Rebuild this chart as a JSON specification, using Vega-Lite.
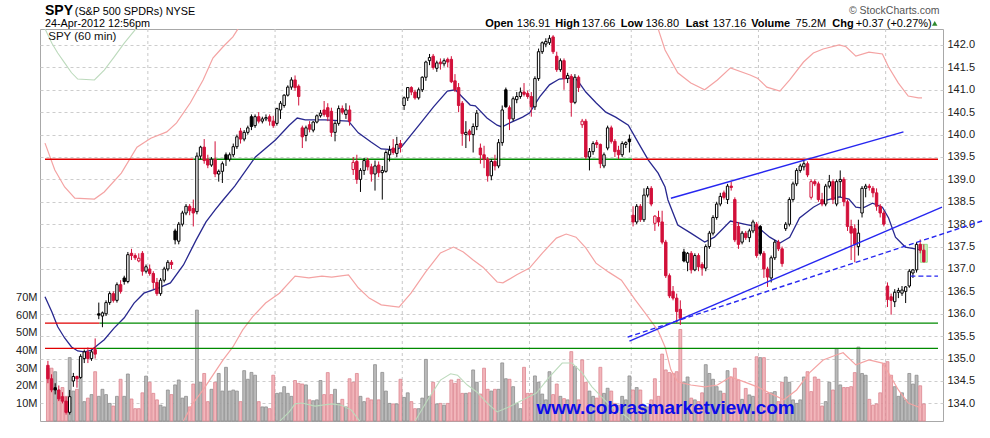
{
  "$schema": "https://vega.github.io/schema/vega-lite/v6.json",
  "width": 903,
  "height": 392,
  "autosize": {"type": "none"},
  "padding": {"left": 40, "top": 29, "right": 47, "bottom": 17},
  "background": "#ffffff",
  "config": {
    "view": {"stroke": "#a8a8a8", "strokeWidth": 1},
    "font": "Liberation Sans",
    "text": {"font": "Liberation Sans"}
  },
  "datasets": {
    "weeks": [{"i": 27.5}, {"i": 62.5}, {"i": 97.5}, {"i": 132.5}, {"i": 160.5}, {"i": 195.5}, {"i": 230.5}],
    "bars": [
      {"i":0,"o":134.85,"h":134.95,"l":134.45,"c":134.55,"v":30},
      {"i":1,"o":134.55,"h":134.65,"l":134.25,"c":134.30,"v":30},
      {"i":2,"o":134.35,"h":134.45,"l":134.20,"c":134.30,"v":28},
      {"i":3,"o":134.30,"h":134.40,"l":134.05,"c":134.10,"v":14},
      {"i":4,"o":134.15,"h":134.25,"l":134.00,"c":134.05,"v":19},
      {"i":5,"o":134.05,"h":134.15,"l":133.75,"c":133.80,"v":14},
      {"i":6,"o":133.80,"h":134.30,"l":133.75,"c":134.15,"v":36},
      {"i":7,"o":134.50,"h":134.68,"l":134.37,"c":134.60,"v":17},
      {"i":8,"o":134.60,"h":134.62,"l":134.35,"c":134.55,"v":18},
      {"i":9,"o":134.58,"h":135.10,"l":134.55,"c":135.05,"v":35},
      {"i":10,"o":135.00,"h":135.20,"l":134.90,"c":135.15,"v":11},
      {"i":11,"o":135.15,"h":135.25,"l":134.90,"c":135.00,"v":13},
      {"i":12,"o":135.00,"h":135.20,"l":134.95,"c":135.15,"v":15},
      {"i":13,"o":135.20,"h":135.45,"l":135.00,"c":135.10,"v":28},
      {"i":14,"o":136.00,"h":136.25,"l":135.88,"c":135.97,"v":14},
      {"i":15,"o":135.95,"h":136.05,"l":135.70,"c":136.02,"v":18},
      {"i":16,"o":136.00,"h":136.30,"l":135.95,"c":136.25,"v":15},
      {"i":17,"o":136.25,"h":136.50,"l":136.20,"c":136.45,"v":10},
      {"i":18,"o":136.45,"h":136.50,"l":136.25,"c":136.30,"v":8.5},
      {"i":19,"o":136.30,"h":136.70,"l":136.25,"c":136.65,"v":14},
      {"i":20,"o":136.65,"h":136.75,"l":136.45,"c":136.50,"v":23.7},
      {"i":21,"o":136.80,"h":136.85,"l":136.65,"c":136.72,"v":14},
      {"i":22,"o":136.72,"h":137.38,"l":136.68,"c":137.32,"v":26.7},
      {"i":23,"o":137.35,"h":137.45,"l":137.20,"c":137.30,"v":12.5},
      {"i":24,"o":137.30,"h":137.35,"l":137.20,"c":137.25,"v":7},
      {"i":25,"o":137.18,"h":137.35,"l":137.15,"c":137.24,"v":7},
      {"i":26,"o":137.35,"h":137.40,"l":136.85,"c":136.95,"v":16},
      {"i":27,"o":136.95,"h":137.10,"l":136.90,"c":137.05,"v":25.5},
      {"i":28,"o":137.00,"h":137.10,"l":136.85,"c":136.90,"v":22},
      {"i":29,"o":136.90,"h":136.95,"l":136.55,"c":136.70,"v":15.7},
      {"i":30,"o":136.70,"h":136.80,"l":136.40,"c":136.45,"v":12},
      {"i":31,"o":136.45,"h":136.80,"l":136.40,"c":136.75,"v":9},
      {"i":32,"o":136.75,"h":137.05,"l":136.70,"c":137.00,"v":8},
      {"i":33,"o":137.00,"h":137.20,"l":136.95,"c":137.15,"v":17.6},
      {"i":34,"o":137.15,"h":137.20,"l":137.00,"c":137.10,"v":15},
      {"i":35,"o":137.85,"h":137.90,"l":137.55,"c":137.65,"v":20.5},
      {"i":36,"o":137.62,"h":138.05,"l":137.55,"c":138.00,"v":23.3},
      {"i":37,"o":138.00,"h":138.30,"l":137.95,"c":138.25,"v":13},
      {"i":38,"o":138.25,"h":138.45,"l":138.20,"c":138.40,"v":14},
      {"i":39,"o":138.40,"h":138.45,"l":138.20,"c":138.30,"v":8},
      {"i":40,"o":138.35,"h":138.55,"l":137.95,"c":138.25,"v":21},
      {"i":41,"o":138.28,"h":139.60,"l":138.22,"c":139.52,"v":63},
      {"i":42,"o":139.52,"h":139.75,"l":139.45,"c":139.72,"v":22},
      {"i":43,"o":139.72,"h":139.90,"l":139.35,"c":139.42,"v":27},
      {"i":44,"o":139.45,"h":139.55,"l":139.25,"c":139.32,"v":11},
      {"i":45,"o":139.32,"h":139.50,"l":139.28,"c":139.45,"v":18},
      {"i":46,"o":139.45,"h":139.85,"l":139.05,"c":139.12,"v":22},
      {"i":47,"o":139.12,"h":139.22,"l":138.95,"c":139.18,"v":27},
      {"i":48,"o":139.18,"h":139.40,"l":138.92,"c":139.35,"v":17},
      {"i":49,"o":139.55,"h":139.60,"l":139.30,"c":139.45,"v":30.5},
      {"i":50,"o":139.45,"h":139.60,"l":139.40,"c":139.55,"v":17},
      {"i":51,"o":139.55,"h":139.80,"l":139.50,"c":139.73,"v":17.6},
      {"i":52,"o":139.73,"h":140.00,"l":139.68,"c":139.95,"v":17},
      {"i":53,"o":140.08,"h":140.15,"l":139.80,"c":139.90,"v":11},
      {"i":54,"o":139.90,"h":140.10,"l":139.85,"c":140.05,"v":28.6},
      {"i":55,"o":140.05,"h":140.20,"l":140.00,"c":140.15,"v":23.7},
      {"i":56,"o":140.40,"h":140.45,"l":140.10,"c":140.18,"v":27.6},
      {"i":57,"o":140.20,"h":140.45,"l":140.15,"c":140.40,"v":26},
      {"i":58,"o":140.40,"h":140.50,"l":140.25,"c":140.30,"v":11},
      {"i":59,"o":140.30,"h":140.40,"l":140.25,"c":140.35,"v":8},
      {"i":60,"o":140.35,"h":140.45,"l":140.30,"c":140.38,"v":8},
      {"i":61,"o":140.40,"h":140.45,"l":140.20,"c":140.30,"v":7},
      {"i":62,"o":140.30,"h":140.42,"l":140.15,"c":140.20,"v":26},
      {"i":63,"o":140.25,"h":140.60,"l":140.20,"c":140.58,"v":15.7},
      {"i":64,"o":140.55,"h":140.75,"l":140.35,"c":140.70,"v":16},
      {"i":65,"o":140.65,"h":140.90,"l":140.60,"c":140.88,"v":19.5},
      {"i":66,"o":140.88,"h":141.10,"l":140.85,"c":141.06,"v":15.7},
      {"i":67,"o":141.06,"h":141.28,"l":141.00,"c":141.22,"v":14},
      {"i":68,"o":141.22,"h":141.32,"l":140.98,"c":141.05,"v":23},
      {"i":69,"o":141.08,"h":141.12,"l":140.65,"c":140.85,"v":21.4},
      {"i":70,"o":140.15,"h":140.20,"l":139.70,"c":139.95,"v":21},
      {"i":71,"o":139.98,"h":140.20,"l":139.85,"c":140.15,"v":20.5},
      {"i":72,"o":140.22,"h":140.30,"l":140.05,"c":140.12,"v":12},
      {"i":73,"o":140.10,"h":140.30,"l":140.05,"c":140.28,"v":11.5},
      {"i":74,"o":140.28,"h":140.45,"l":140.25,"c":140.42,"v":12},
      {"i":75,"o":140.42,"h":140.55,"l":140.38,"c":140.48,"v":23},
      {"i":76,"o":140.55,"h":140.75,"l":140.40,"c":140.45,"v":15},
      {"i":77,"o":140.60,"h":140.70,"l":140.30,"c":140.40,"v":27.5},
      {"i":78,"o":140.52,"h":140.60,"l":139.95,"c":140.05,"v":15},
      {"i":79,"o":140.05,"h":140.30,"l":139.85,"c":140.25,"v":18},
      {"i":80,"o":140.25,"h":140.65,"l":140.20,"c":140.58,"v":10},
      {"i":81,"o":140.58,"h":140.65,"l":140.45,"c":140.50,"v":12.3},
      {"i":82,"o":140.45,"h":140.70,"l":140.35,"c":140.55,"v":8},
      {"i":83,"o":140.55,"h":140.65,"l":140.20,"c":140.30,"v":24},
      {"i":84,"o":139.22,"h":139.50,"l":139.10,"c":139.38,"v":22},
      {"i":85,"o":139.40,"h":139.55,"l":138.90,"c":139.00,"v":27},
      {"i":86,"o":139.00,"h":139.25,"l":138.72,"c":139.20,"v":14},
      {"i":87,"o":139.20,"h":139.48,"l":139.10,"c":139.42,"v":11},
      {"i":88,"o":139.42,"h":139.48,"l":139.20,"c":139.28,"v":13},
      {"i":89,"o":139.28,"h":139.35,"l":138.95,"c":139.12,"v":12},
      {"i":90,"o":139.12,"h":139.42,"l":138.75,"c":139.30,"v":32},
      {"i":91,"o":139.32,"h":139.40,"l":139.05,"c":139.15,"v":12},
      {"i":92,"o":139.15,"h":139.30,"l":138.55,"c":139.20,"v":27.6},
      {"i":93,"o":139.18,"h":139.65,"l":139.15,"c":139.60,"v":17},
      {"i":94,"o":139.55,"h":139.75,"l":139.40,"c":139.65,"v":10},
      {"i":95,"o":139.70,"h":139.90,"l":139.55,"c":139.60,"v":9.7},
      {"i":96,"o":139.58,"h":139.95,"l":139.50,"c":139.78,"v":9.7},
      {"i":97,"o":139.80,"h":139.88,"l":139.60,"c":139.72,"v":23.7},
      {"i":98,"o":140.65,"h":140.85,"l":140.55,"c":140.82,"v":13.4},
      {"i":99,"o":140.82,"h":141.05,"l":140.75,"c":141.05,"v":16},
      {"i":100,"o":141.05,"h":141.08,"l":140.88,"c":140.95,"v":11},
      {"i":101,"o":140.95,"h":141.00,"l":140.78,"c":140.82,"v":7},
      {"i":102,"o":140.82,"h":141.05,"l":140.78,"c":141.00,"v":7},
      {"i":103,"o":141.00,"h":141.30,"l":140.95,"c":141.28,"v":13},
      {"i":104,"o":141.28,"h":141.65,"l":141.20,"c":141.62,"v":35},
      {"i":105,"o":141.65,"h":141.80,"l":141.55,"c":141.72,"v":14},
      {"i":106,"o":141.75,"h":141.80,"l":141.45,"c":141.50,"v":22},
      {"i":107,"o":141.48,"h":141.65,"l":141.40,"c":141.60,"v":9.7},
      {"i":108,"o":141.62,"h":141.70,"l":141.45,"c":141.58,"v":10},
      {"i":109,"o":141.58,"h":141.70,"l":141.52,"c":141.65,"v":9},
      {"i":110,"o":141.68,"h":141.72,"l":141.50,"c":141.62,"v":10},
      {"i":111,"o":141.68,"h":141.75,"l":141.15,"c":141.18,"v":23.3},
      {"i":112,"o":141.20,"h":141.35,"l":140.95,"c":141.00,"v":21.4},
      {"i":113,"o":141.05,"h":141.15,"l":140.50,"c":140.65,"v":23.7},
      {"i":114,"o":140.70,"h":140.75,"l":139.75,"c":140.02,"v":15.7},
      {"i":115,"o":140.00,"h":140.30,"l":139.70,"c":140.05,"v":15.7},
      {"i":116,"o":140.08,"h":140.12,"l":139.85,"c":140.00,"v":16},
      {"i":117,"o":140.00,"h":140.25,"l":139.60,"c":140.18,"v":29},
      {"i":118,"o":140.18,"h":140.55,"l":140.10,"c":140.48,"v":22},
      {"i":119,"o":139.70,"h":139.80,"l":139.35,"c":139.55,"v":15.3},
      {"i":120,"o":139.55,"h":139.75,"l":139.25,"c":139.45,"v":30},
      {"i":121,"o":139.45,"h":139.50,"l":138.95,"c":139.08,"v":18},
      {"i":122,"o":139.08,"h":139.45,"l":138.98,"c":139.40,"v":17},
      {"i":123,"o":139.40,"h":139.55,"l":139.20,"c":139.30,"v":18},
      {"i":124,"o":139.30,"h":139.90,"l":139.25,"c":139.82,"v":18},
      {"i":125,"o":139.82,"h":140.65,"l":139.75,"c":140.55,"v":33},
      {"i":126,"o":141.00,"h":141.05,"l":140.60,"c":140.62,"v":24},
      {"i":127,"o":140.60,"h":140.65,"l":140.10,"c":140.35,"v":23.7},
      {"i":128,"o":140.35,"h":140.85,"l":140.30,"c":140.80,"v":19.5},
      {"i":129,"o":140.78,"h":140.95,"l":140.70,"c":140.85,"v":10},
      {"i":130,"o":140.85,"h":141.05,"l":140.80,"c":140.95,"v":7},
      {"i":131,"o":140.95,"h":141.15,"l":140.85,"c":140.90,"v":30.5},
      {"i":132,"o":140.92,"h":140.98,"l":140.80,"c":140.85,"v":15.7},
      {"i":133,"o":140.85,"h":140.95,"l":140.40,"c":140.62,"v":15.7},
      {"i":134,"o":140.62,"h":141.30,"l":140.55,"c":141.25,"v":25.6},
      {"i":135,"o":141.25,"h":141.92,"l":141.20,"c":141.85,"v":22},
      {"i":136,"o":141.85,"h":142.08,"l":141.80,"c":142.05,"v":15.3},
      {"i":137,"o":142.02,"h":142.15,"l":141.95,"c":142.08,"v":12},
      {"i":138,"o":142.05,"h":142.22,"l":142.00,"c":142.15,"v":28},
      {"i":139,"o":142.18,"h":142.22,"l":141.80,"c":141.85,"v":15},
      {"i":140,"o":141.75,"h":141.85,"l":141.40,"c":141.45,"v":21},
      {"i":141,"o":141.45,"h":141.70,"l":141.40,"c":141.65,"v":14},
      {"i":142,"o":141.65,"h":141.70,"l":141.00,"c":141.25,"v":12.7},
      {"i":143,"o":141.25,"h":141.38,"l":141.15,"c":141.32,"v":12},
      {"i":144,"o":141.30,"h":141.35,"l":140.40,"c":140.72,"v":39.4},
      {"i":145,"o":140.72,"h":141.35,"l":140.68,"c":141.28,"v":31},
      {"i":146,"o":141.28,"h":141.32,"l":140.95,"c":141.05,"v":12},
      {"i":147,"o":140.22,"h":140.35,"l":140.15,"c":140.30,"v":34.7},
      {"i":148,"o":140.30,"h":140.35,"l":139.45,"c":139.50,"v":22},
      {"i":149,"o":139.50,"h":139.70,"l":139.20,"c":139.62,"v":17},
      {"i":150,"o":139.62,"h":139.85,"l":139.55,"c":139.80,"v":14},
      {"i":151,"o":139.82,"h":139.88,"l":139.70,"c":139.78,"v":13},
      {"i":152,"o":139.78,"h":139.80,"l":139.25,"c":139.35,"v":30.5},
      {"i":153,"o":139.30,"h":139.60,"l":139.25,"c":139.55,"v":15.7},
      {"i":154,"o":139.70,"h":140.20,"l":139.65,"c":140.15,"v":18.6},
      {"i":155,"o":140.15,"h":140.20,"l":139.80,"c":139.85,"v":17},
      {"i":156,"o":139.85,"h":139.90,"l":139.50,"c":139.62,"v":10},
      {"i":157,"o":139.65,"h":139.75,"l":139.45,"c":139.55,"v":9},
      {"i":158,"o":139.55,"h":139.85,"l":139.50,"c":139.80,"v":14},
      {"i":159,"o":139.78,"h":139.85,"l":139.70,"c":139.82,"v":12},
      {"i":160,"o":139.90,"h":140.00,"l":139.60,"c":139.84,"v":25.6},
      {"i":161,"o":138.20,"h":138.40,"l":137.95,"c":138.05,"v":17.6},
      {"i":162,"o":138.05,"h":138.45,"l":138.00,"c":138.40,"v":19},
      {"i":163,"o":138.40,"h":138.45,"l":138.05,"c":138.10,"v":17.6},
      {"i":164,"o":138.10,"h":138.80,"l":138.05,"c":138.65,"v":8},
      {"i":165,"o":138.65,"h":138.85,"l":138.60,"c":138.80,"v":8},
      {"i":166,"o":138.80,"h":138.85,"l":138.40,"c":138.45,"v":12},
      {"i":167,"o":138.02,"h":138.20,"l":137.85,"c":138.18,"v":24},
      {"i":168,"o":138.15,"h":138.30,"l":137.95,"c":138.05,"v":14},
      {"i":169,"o":138.05,"h":138.30,"l":137.55,"c":137.60,"v":38},
      {"i":170,"o":137.60,"h":137.65,"l":136.80,"c":136.85,"v":29},
      {"i":171,"o":136.85,"h":136.90,"l":136.35,"c":136.40,"v":27.5},
      {"i":172,"o":136.50,"h":136.62,"l":136.30,"c":136.35,"v":27},
      {"i":173,"o":136.35,"h":136.45,"l":135.80,"c":136.05,"v":28},
      {"i":174,"o":136.10,"h":136.30,"l":135.75,"c":135.90,"v":52},
      {"i":175,"o":137.38,"h":137.45,"l":137.15,"c":137.18,"v":22},
      {"i":176,"o":137.15,"h":137.38,"l":136.95,"c":137.35,"v":25},
      {"i":177,"o":137.35,"h":137.40,"l":136.90,"c":136.98,"v":13},
      {"i":178,"o":136.98,"h":137.35,"l":136.95,"c":137.30,"v":12},
      {"i":179,"o":137.30,"h":137.35,"l":136.95,"c":137.05,"v":11},
      {"i":180,"o":137.10,"h":137.15,"l":136.85,"c":137.02,"v":16},
      {"i":181,"o":137.02,"h":137.55,"l":136.95,"c":137.50,"v":32},
      {"i":182,"o":137.50,"h":137.85,"l":137.45,"c":137.80,"v":27},
      {"i":183,"o":137.80,"h":138.20,"l":137.75,"c":138.15,"v":23.7},
      {"i":184,"o":138.15,"h":138.50,"l":138.10,"c":138.45,"v":19.5},
      {"i":185,"o":138.45,"h":138.70,"l":138.40,"c":138.62,"v":17},
      {"i":186,"o":138.70,"h":138.75,"l":138.55,"c":138.60,"v":15.7},
      {"i":187,"o":138.55,"h":138.90,"l":138.45,"c":138.85,"v":28.6},
      {"i":188,"o":138.85,"h":138.95,"l":138.75,"c":138.82,"v":25},
      {"i":189,"o":138.55,"h":138.60,"l":137.60,"c":137.65,"v":30},
      {"i":190,"o":137.95,"h":138.05,"l":137.45,"c":137.55,"v":23.3},
      {"i":191,"o":137.60,"h":137.85,"l":137.55,"c":137.80,"v":12.3},
      {"i":192,"o":137.80,"h":137.85,"l":137.65,"c":137.70,"v":18.5},
      {"i":193,"o":137.70,"h":137.90,"l":137.60,"c":137.85,"v":14.8},
      {"i":194,"o":137.85,"h":138.10,"l":137.80,"c":138.05,"v":14},
      {"i":195,"o":138.00,"h":138.05,"l":137.25,"c":137.30,"v":36.5},
      {"i":196,"o":137.95,"h":137.98,"l":137.30,"c":137.35,"v":36},
      {"i":197,"o":137.35,"h":137.40,"l":136.80,"c":137.00,"v":36},
      {"i":198,"o":137.00,"h":137.05,"l":136.60,"c":136.82,"v":15.7},
      {"i":199,"o":136.80,"h":137.30,"l":136.70,"c":137.25,"v":16},
      {"i":200,"o":137.25,"h":137.65,"l":137.20,"c":137.60,"v":16.7},
      {"i":201,"o":137.60,"h":137.65,"l":137.40,"c":137.45,"v":11},
      {"i":202,"o":137.45,"h":137.50,"l":137.05,"c":137.12,"v":22},
      {"i":203,"o":137.90,"h":138.05,"l":137.85,"c":138.00,"v":25},
      {"i":204,"o":138.00,"h":138.60,"l":137.95,"c":138.55,"v":22},
      {"i":205,"o":138.55,"h":138.95,"l":138.50,"c":138.90,"v":12},
      {"i":206,"o":138.90,"h":139.25,"l":138.85,"c":139.20,"v":10},
      {"i":207,"o":139.20,"h":139.35,"l":139.15,"c":139.30,"v":12},
      {"i":208,"o":139.28,"h":139.42,"l":139.20,"c":139.35,"v":25},
      {"i":209,"o":139.35,"h":139.40,"l":139.05,"c":139.10,"v":28},
      {"i":210,"o":138.60,"h":139.00,"l":138.55,"c":138.95,"v":16.7},
      {"i":211,"o":138.95,"h":139.00,"l":138.85,"c":138.90,"v":25},
      {"i":212,"o":138.90,"h":138.95,"l":138.50,"c":138.55,"v":23.7},
      {"i":213,"o":138.55,"h":138.70,"l":138.40,"c":138.45,"v":8.5},
      {"i":214,"o":138.45,"h":138.90,"l":138.40,"c":138.85,"v":11},
      {"i":215,"o":138.85,"h":139.10,"l":138.80,"c":138.95,"v":22},
      {"i":216,"o":138.95,"h":139.00,"l":138.45,"c":138.55,"v":17.6},
      {"i":217,"o":138.45,"h":139.00,"l":138.40,"c":138.95,"v":41},
      {"i":218,"o":138.95,"h":139.20,"l":138.60,"c":139.00,"v":20.5},
      {"i":219,"o":139.00,"h":139.05,"l":138.40,"c":138.50,"v":19},
      {"i":220,"o":138.50,"h":138.55,"l":137.85,"c":137.95,"v":19},
      {"i":221,"o":137.95,"h":138.10,"l":137.20,"c":137.80,"v":19.5},
      {"i":222,"o":137.90,"h":138.00,"l":137.15,"c":137.55,"v":27.5},
      {"i":223,"o":137.50,"h":138.10,"l":137.30,"c":137.80,"v":42},
      {"i":224,"o":138.25,"h":138.85,"l":138.15,"c":138.80,"v":27},
      {"i":225,"o":138.80,"h":138.90,"l":138.60,"c":138.85,"v":26},
      {"i":226,"o":138.85,"h":138.90,"l":138.75,"c":138.82,"v":12.3},
      {"i":227,"o":138.80,"h":138.85,"l":138.60,"c":138.70,"v":9},
      {"i":228,"o":138.70,"h":138.80,"l":138.30,"c":138.40,"v":9.7},
      {"i":229,"o":138.40,"h":138.45,"l":138.15,"c":138.25,"v":16},
      {"i":230,"o":138.25,"h":138.30,"l":137.95,"c":138.00,"v":32.8},
      {"i":231,"o":136.62,"h":136.70,"l":136.15,"c":136.32,"v":33.7},
      {"i":232,"o":136.38,"h":136.45,"l":135.98,"c":136.30,"v":26},
      {"i":233,"o":136.27,"h":136.55,"l":136.15,"c":136.48,"v":19.5},
      {"i":234,"o":136.48,"h":136.58,"l":136.35,"c":136.52,"v":14},
      {"i":235,"o":136.46,"h":136.62,"l":136.40,"c":136.53,"v":16},
      {"i":236,"o":136.50,"h":136.62,"l":136.24,"c":136.60,"v":12},
      {"i":237,"o":136.62,"h":137.00,"l":136.58,"c":136.95,"v":27},
      {"i":238,"o":136.91,"h":137.00,"l":136.80,"c":136.98,"v":21},
      {"i":239,"o":136.98,"h":137.60,"l":136.92,"c":137.55,"v":26},
      {"i":240,"o":137.55,"h":137.66,"l":137.35,"c":137.42,"v":20},
      {"i":241,"o":137.42,"h":137.55,"l":137.15,"c":137.16,"v":9.7}
    ],
    "lines": [
      {"s":"ma","i":-0.8,"p":136.38},{"s":"ma","i":1.1,"p":136.04},{"s":"ma","i":2.7,"p":135.71},{"s":"ma","i":4.6,"p":135.46},
      {"s":"ma","i":6.5,"p":135.26},{"s":"ma","i":8.2,"p":135.17},{"s":"ma","i":10.1,"p":135.15},{"s":"ma","i":12.0,"p":135.19},
      {"s":"ma","i":13.6,"p":135.30},{"s":"ma","i":15.5,"p":135.42},{"s":"ma","i":18.2,"p":135.68},{"s":"ma","i":21.0,"p":135.91},
      {"s":"ma","i":23.7,"p":136.24},{"s":"ma","i":26.4,"p":136.46},{"s":"ma","i":30.5,"p":136.58},{"s":"ma","i":33.7,"p":136.69},
      {"s":"ma","i":37.3,"p":137.09},{"s":"ma","i":40.8,"p":137.65},{"s":"ma","i":43.5,"p":138.05},{"s":"ma","i":46.0,"p":138.32},
      {"s":"ma","i":48.2,"p":138.54},{"s":"ma","i":51.4,"p":138.85},{"s":"ma","i":57.1,"p":139.50},{"s":"ma","i":62.6,"p":139.88},
      {"s":"ma","i":66.4,"p":140.21},{"s":"ma","i":68.6,"p":140.37},{"s":"ma","i":70.8,"p":140.33},{"s":"ma","i":76.2,"p":140.33},
      {"s":"ma","i":80.0,"p":140.31},{"s":"ma","i":82.7,"p":140.30},{"s":"ma","i":85.4,"p":140.04},{"s":"ma","i":89.0,"p":139.83},
      {"s":"ma","i":91.7,"p":139.68},{"s":"ma","i":95.8,"p":139.66},{"s":"ma","i":97.2,"p":139.72},{"s":"ma","i":102.6,"p":140.26},
      {"s":"ma","i":106.1,"p":140.62},{"s":"ma","i":109.9,"p":140.97},{"s":"ma","i":112.1,"p":141.00},{"s":"ma","i":114.0,"p":140.84},
      {"s":"ma","i":116.2,"p":140.66},{"s":"ma","i":117.6,"p":140.64},{"s":"ma","i":120.8,"p":140.37},{"s":"ma","i":123.6,"p":140.21},
      {"s":"ma","i":124.9,"p":140.17},{"s":"ma","i":127.1,"p":140.26},{"s":"ma","i":130.6,"p":140.39},{"s":"ma","i":132.5,"p":140.48},
      {"s":"ma","i":135.3,"p":140.84},{"s":"ma","i":138.0,"p":141.11},{"s":"ma","i":140.7,"p":141.24},{"s":"ma","i":143.4,"p":141.26},
      {"s":"ma","i":145.6,"p":141.22},{"s":"ma","i":148.0,"p":140.95},{"s":"ma","i":150.8,"p":140.71},{"s":"ma","i":153.5,"p":140.50},
      {"s":"ma","i":156.2,"p":140.39},{"s":"ma","i":159.7,"p":140.21},{"s":"ma","i":162.5,"p":139.81},{"s":"ma","i":165.2,"p":139.43},
      {"s":"ma","i":167.9,"p":139.14},{"s":"ma","i":169.8,"p":138.83},{"s":"ma","i":170.6,"p":138.54},{"s":"ma","i":173.3,"p":137.98},
      {"s":"ma","i":176.9,"p":137.80},{"s":"ma","i":180.7,"p":137.60},{"s":"ma","i":183.4,"p":137.71},{"s":"ma","i":187.8,"p":138.07},
      {"s":"ma","i":191.6,"p":138.00},{"s":"ma","i":195.2,"p":137.94},{"s":"ma","i":198.6,"p":137.71},{"s":"ma","i":201.4,"p":137.58},
      {"s":"ma","i":204.1,"p":137.71},{"s":"ma","i":206.8,"p":138.14},{"s":"ma","i":210.6,"p":138.38},{"s":"ma","i":214.2,"p":138.54},
      {"s":"ma","i":217.7,"p":138.61},{"s":"ma","i":220.4,"p":138.56},{"s":"ma","i":222.3,"p":138.38},{"s":"ma","i":224.2,"p":138.36},
      {"s":"ma","i":226.9,"p":138.47},{"s":"ma","i":229.6,"p":138.38},{"s":"ma","i":231.3,"p":138.14},{"s":"ma","i":233.2,"p":137.71},
      {"s":"ma","i":235.9,"p":137.49},{"s":"ma","i":238.6,"p":137.45},{"s":"ma","i":240.5,"p":137.42},
      {"s":"u1","i":-0.8,"p":139.81},{"s":"u1","i":1.9,"p":139.21},{"s":"u1","i":4.6,"p":138.83},{"s":"u1","i":7.4,"p":138.58},
      {"s":"u1","i":12.8,"p":138.56},{"s":"u1","i":15.5,"p":138.72},{"s":"u1","i":20.2,"p":139.14},{"s":"u1","i":24.5,"p":139.72},
      {"s":"u1","i":28.3,"p":139.92},{"s":"u1","i":32.7,"p":140.06},{"s":"u1","i":35.4,"p":140.26},{"s":"u1","i":39.2,"p":140.71},
      {"s":"u1","i":42.7,"p":141.22},{"s":"u1","i":45.4,"p":141.71},{"s":"u1","i":48.2,"p":141.96},{"s":"u1","i":50.9,"p":142.18},
      {"s":"u1","i":52.3,"p":142.36},{"s":"u1","i":53.6,"p":142.56},
      {"s":"u2","i":166.5,"p":142.67},{"s":"u2","i":167.9,"p":142.36},{"s":"u2","i":169.8,"p":141.89},{"s":"u2","i":173.3,"p":141.38},
      {"s":"u2","i":176.9,"p":141.15},{"s":"u2","i":180.7,"p":141.00},{"s":"u2","i":184.2,"p":141.22},{"s":"u2","i":187.8,"p":141.49},
      {"s":"u2","i":193.2,"p":141.33},{"s":"u2","i":195.2,"p":141.26},{"s":"u2","i":197.8,"p":141.06},{"s":"u2","i":201.4,"p":140.97},
      {"s":"u2","i":204.1,"p":141.22},{"s":"u2","i":207.9,"p":141.62},{"s":"u2","i":210.6,"p":141.82},{"s":"u2","i":213.3,"p":141.91},
      {"s":"u2","i":217.7,"p":142.00},{"s":"u2","i":219.6,"p":141.96},{"s":"u2","i":222.3,"p":141.75},{"s":"u2","i":225.9,"p":141.84},
      {"s":"u2","i":229.6,"p":141.80},{"s":"u2","i":231.3,"p":141.51},{"s":"u2","i":234.0,"p":141.15},{"s":"u2","i":236.7,"p":140.86},
      {"s":"u2","i":239.5,"p":140.82},{"s":"u2","i":240.5,"p":140.82},
      {"s":"lo","i":36.7,"p":133.52},{"s":"lo","i":40.0,"p":134.01},{"s":"lo","i":42.7,"p":134.30},{"s":"lo","i":45.4,"p":134.63},
      {"s":"lo","i":48.2,"p":134.97},{"s":"lo","i":50.9,"p":135.26},{"s":"lo","i":53.6,"p":135.64},{"s":"lo","i":56.3,"p":135.93},
      {"s":"lo","i":59.9,"p":136.24},{"s":"lo","i":63.7,"p":136.46},{"s":"lo","i":68.0,"p":136.84},{"s":"lo","i":71.8,"p":136.80},
      {"s":"lo","i":75.4,"p":136.84},{"s":"lo","i":78.1,"p":136.82},{"s":"lo","i":82.7,"p":136.87},{"s":"lo","i":85.4,"p":136.58},
      {"s":"lo","i":88.4,"p":136.35},{"s":"lo","i":91.7,"p":136.20},{"s":"lo","i":96.6,"p":136.15},{"s":"lo","i":99.9,"p":136.46},
      {"s":"lo","i":103.9,"p":136.93},{"s":"lo","i":108.0,"p":137.36},{"s":"lo","i":111.6,"p":137.49},{"s":"lo","i":114.3,"p":137.38},
      {"s":"lo","i":117.0,"p":137.20},{"s":"lo","i":119.7,"p":137.04},{"s":"lo","i":123.6,"p":136.71},{"s":"lo","i":125.2,"p":136.69},
      {"s":"lo","i":129.0,"p":136.87},{"s":"lo","i":132.5,"p":137.02},{"s":"lo","i":136.1,"p":137.36},{"s":"lo","i":139.9,"p":137.69},
      {"s":"lo","i":142.6,"p":137.78},{"s":"lo","i":145.3,"p":137.71},{"s":"lo","i":148.0,"p":137.47},{"s":"lo","i":150.8,"p":137.13},
      {"s":"lo","i":154.3,"p":136.93},{"s":"lo","i":157.8,"p":136.75},{"s":"lo","i":159.7,"p":136.53},{"s":"lo","i":161.6,"p":136.31},
      {"s":"lo","i":164.3,"p":136.02},{"s":"lo","i":167.9,"p":135.62},{"s":"lo","i":169.8,"p":135.26},{"s":"lo","i":171.4,"p":134.75},
      {"s":"lo","i":173.3,"p":134.48},{"s":"lo","i":176.9,"p":134.41},{"s":"lo","i":180.7,"p":134.37},{"s":"lo","i":184.2,"p":134.41},
      {"s":"lo","i":187.8,"p":134.59},{"s":"lo","i":191.6,"p":134.48},{"s":"lo","i":195.2,"p":134.37},{"s":"lo","i":198.6,"p":134.23},
      {"s":"lo","i":202.5,"p":134.08},{"s":"lo","i":206.0,"p":134.30},{"s":"lo","i":209.5,"p":134.68},{"s":"lo","i":213.3,"p":134.97},
      {"s":"lo","i":216.9,"p":135.08},{"s":"lo","i":218.8,"p":135.13},{"s":"lo","i":222.3,"p":134.86},{"s":"lo","i":225.9,"p":134.97},
      {"s":"lo","i":229.6,"p":134.90},{"s":"lo","i":231.3,"p":134.68},{"s":"lo","i":234.0,"p":134.30},{"s":"lo","i":236.7,"p":134.01},
      {"s":"lo","i":239.5,"p":133.92},{"s":"lo","i":240.5,"p":133.92},
      {"s":"g1","i":-0.8,"p":142.36},{"s":"g1","i":1.1,"p":142.04},{"s":"g1","i":2.7,"p":141.82},{"s":"g1","i":4.6,"p":141.60},
      {"s":"g1","i":6.5,"p":141.38},{"s":"g1","i":8.2,"p":141.24},{"s":"g1","i":12.8,"p":141.22},{"s":"g1","i":15.5,"p":141.44},
      {"s":"g1","i":18.2,"p":141.73},{"s":"g1","i":21.0,"p":142.04},{"s":"g1","i":24.2,"p":142.36},{"s":"g1","i":25.0,"p":142.50},
      {"s":"g2","i":62.5,"p":133.50},{"s":"g2","i":66.4,"p":133.81},{"s":"g2","i":68.0,"p":133.99},{"s":"g2","i":69.9,"p":134.01},
      {"s":"g2","i":73.5,"p":133.94},{"s":"g2","i":78.1,"p":133.99},{"s":"g2","i":80.8,"p":133.96},{"s":"g2","i":83.5,"p":133.85},
      {"s":"g2","i":86.6,"p":133.52},
      {"s":"g3","i":100.4,"p":133.52},{"s":"g3","i":104.5,"p":134.08},{"s":"g3","i":108.0,"p":134.52},{"s":"g3","i":110.8,"p":134.66},
      {"s":"g3","i":112.7,"p":134.63},{"s":"g3","i":115.4,"p":134.41},{"s":"g3","i":118.1,"p":134.25},{"s":"g3","i":120.8,"p":134.01},
      {"s":"g3","i":123.6,"p":133.81},{"s":"g3","i":126.3,"p":133.90},{"s":"g3","i":129.0,"p":134.01},{"s":"g3","i":131.7,"p":134.12},
      {"s":"g3","i":134.4,"p":134.23},{"s":"g3","i":138.0,"p":134.59},{"s":"g3","i":141.5,"p":134.90},{"s":"g3","i":144.2,"p":134.90},
      {"s":"g3","i":147.0,"p":134.68},{"s":"g3","i":149.7,"p":134.37},{"s":"g3","i":152.4,"p":134.14},{"s":"g3","i":155.1,"p":133.92},
      {"s":"g3","i":157.8,"p":133.79},{"s":"g3","i":159.7,"p":133.67},{"s":"g3","i":161.1,"p":133.56}
    ],
    "levels": [
      {"p":139.45,"i1":-0.8,"i2":40.0,"pos":"below"},
      {"p":139.45,"i1":40.0,"i2":160.8,"pos":"above"},
      {"p":139.45,"i1":160.8,"i2":244.9,"pos":"below"},
      {"p":135.79,"i1":-0.8,"i2":14.2,"pos":"below"},
      {"p":135.79,"i1":14.2,"i2":244.9,"pos":"above"},
      {"p":135.23,"i1":-0.8,"i2":13.3,"pos":"below"},
      {"p":135.23,"i1":13.3,"i2":244.9,"pos":"above"}
    ],
    "trend": [
      {"line":"support","i1":160.0,"p1":135.39,"i2":246.0,"p2":138.38},
      {"line":"resistance","i1":171.4,"p1":138.58,"i2":235.4,"p2":140.06},
      {"line":"support2","i1":159.5,"p1":135.48,"i2":257.7,"p2":138.09},
      {"line":"stop","i1":237.3,"p1":136.84,"i2":244.9,"p2":136.84}
    ],
    "notes": [
      {"role":"sym","t":"SPY","i":-0.8,"p":142.67},
      {"role":"name","t":"(S&P 500 SPDRs) NYSE","i":7.4,"p":142.67},
      {"role":"name","t":"24-Apr-2012 12:56pm","i":-0.8,"p":142.41},
      {"role":"panel","t":"SPY (60 min)","i":0.1,"p":142.12},
      {"role":"copy","t":"© StockCharts.com","i":220.4,"p":142.69},
      {"role":"lab","t":"Open","i":120.3,"p":142.41},
      {"role":"val","t":"136.91","i":129.0,"p":142.41},
      {"role":"lab","t":"High","i":139.6,"p":142.41},
      {"role":"val","t":"137.66","i":146.9,"p":142.41},
      {"role":"lab","t":"Low","i":157.6,"p":142.41},
      {"role":"val","t":"136.80","i":164.4,"p":142.41},
      {"role":"lab","t":"Last","i":175.5,"p":142.41},
      {"role":"val","t":"137.16","i":182.9,"p":142.41},
      {"role":"lab","t":"Volume","i":193.5,"p":142.41},
      {"role":"val","t":"75.2M","i":205.7,"p":142.41},
      {"role":"lab","t":"Chg","i":215.8,"p":142.41},
      {"role":"val","t":"+0.37 (+0.27%)","i":222.3,"p":142.41},
      {"role":"web","t":"www.cobrasmarketview.com","i":134.4,"p":133.76},
      {"role":"tri","t":"","i":244.0,"p":142.48}
    ]
  },
  "resolve": {"scale": {"y": "independent"}, "axis": {"y": "independent"}},
  "layer": [
    {
      "data": {"name": "weeks"},
      "mark": {"type": "rule", "color": "#c8c8c8", "strokeDash": [3, 3], "strokeWidth": 1},
      "encoding": {
        "x": {"field": "i", "type": "quantitative", "scale": {"domain": [-0.8, 244.9], "nice": false, "zero": false}, "axis": null}
      }
    },
    {
      "data": {"name": "levels"},
      "mark": {"type": "rule", "strokeWidth": 0, "opacity": 0},
      "encoding": {
        "x": {"field": "i1", "type": "quantitative", "scale": {"domain": [-0.8, 244.9], "nice": false, "zero": false}, "axis": null},
        "x2": {"field": "i2"},
        "y": {
          "field": "p", "type": "quantitative",
          "scale": {"domain": [133.607, 142.357], "nice": false, "zero": false},
          "axis": {
            "orient": "right",
            "values": [134, 134.5, 135, 135.5, 136, 136.5, 137, 137.5, 138, 138.5, 139, 139.5, 140, 140.5, 141, 141.5, 142],
            "format": ".1f", "title": null, "domain": false, "ticks": false,
            "grid": true, "gridColor": "#cdcdcd", "gridDash": [3, 3], "gridWidth": 1,
            "labelFont": "Liberation Sans", "labelFontSize": 11, "labelColor": "#222222",
            "labelPadding": 4, "labelFlush": false, "labelOverlap": false
          }
        }
      }
    },
    {
      "data": {"name": "bars"},
      "transform": [{"window": [{"op": "lag", "field": "c", "as": "pc"}], "sort": [{"field": "i"}]}],
      "mark": {"type": "bar", "width": 2.9, "strokeWidth": 0.8},
      "encoding": {
        "x": {
          "field": "i", "type": "quantitative",
          "scale": {"domain": [-0.8, 244.9], "nice": false, "zero": false},
          "axis": {
            "values": [-0.5, 6.5, 13.5, 20.5, 27.5, 34.5, 41.5, 48.5, 55.5, 62.5, 69.5, 76.5, 83.5, 90.5, 97.5, 104.5, 111.5, 118.5, 125.5, 132.5, 139.5, 146.5, 153.5, 160.5, 167.5, 174.5, 181.5, 188.5, 195.5, 202.5, 209.5, 216.5, 223.5, 230.5, 237.5],
            "labelExpr": "['6','7','8','9','12','13','14','15','16','19','20','21','22','23','26','27','28','29','30','Apr','3','4','5','9','10','11','12','13','16','17','18','19','20','23','24'][round((datum.value + 0.5) / 7)]",
            "labelFontWeight": {"condition": {"test": "datum.value == 132.5", "value": "bold"}, "value": "normal"},
            "title": null, "domain": false, "ticks": false, "grid": false,
            "labelFont": "Liberation Sans", "labelFontSize": 11.5, "labelColor": "#222222",
            "labelPadding": 4, "labelFlush": false, "labelOverlap": false, "labelBound": false
          }
        },
        "y": {
          "field": "v", "type": "quantitative",
          "scale": {"domain": [0, 222.7], "nice": false},
          "axis": {
            "orient": "left", "values": [10, 20, 30, 40, 50, 60, 70], "labelExpr": "datum.value + 'M'",
            "title": null, "domain": false, "ticks": false, "grid": false,
            "labelFont": "Liberation Sans", "labelFontSize": 11, "labelColor": "#222222",
            "labelPadding": 3, "labelFlush": false, "labelOverlap": false
          }
        },
        "fill": {"condition": {"test": "datum.pc != null && datum.c >= datum.pc", "value": "#bababa"}, "value": "#f2b6bb"},
        "stroke": {"condition": {"test": "datum.pc != null && datum.c >= datum.pc", "value": "#8e8e8e"}, "value": "#dc8790"}
      }
    },
    {
      "data": {"name": "lines"},
      "transform": [{"filter": "indexof(['u1','u2','lo'], datum.s) >= 0"}],
      "mark": {"type": "line", "color": "#f4a3a3", "strokeWidth": 1.2, "clip": true},
      "encoding": {
        "x": {"field": "i", "type": "quantitative", "scale": {"domain": [-0.8, 244.9], "nice": false, "zero": false}, "axis": null},
        "y": {"field": "p", "type": "quantitative", "scale": {"domain": [133.607, 142.357], "nice": false, "zero": false}, "axis": null},
        "detail": {"field": "s"}
      }
    },
    {
      "data": {"name": "lines"},
      "transform": [{"filter": "indexof(['g1','g2','g3'], datum.s) >= 0"}],
      "mark": {"type": "line", "color": "#bcdabc", "strokeWidth": 1.1, "clip": true},
      "encoding": {
        "x": {"field": "i", "type": "quantitative", "scale": {"domain": [-0.8, 244.9], "nice": false, "zero": false}, "axis": null},
        "y": {"field": "p", "type": "quantitative", "scale": {"domain": [133.607, 142.357], "nice": false, "zero": false}, "axis": null},
        "detail": {"field": "s"}
      }
    },
    {
      "data": {"name": "lines"},
      "transform": [{"filter": "datum.s == 'ma'"}],
      "mark": {"type": "line", "color": "#28288f", "strokeWidth": 1.3, "clip": true},
      "encoding": {
        "x": {"field": "i", "type": "quantitative", "scale": {"domain": [-0.8, 244.9], "nice": false, "zero": false}, "axis": null},
        "y": {"field": "p", "type": "quantitative", "scale": {"domain": [133.607, 142.357], "nice": false, "zero": false}, "axis": null}
      }
    },
    {
      "data": {"name": "levels"},
      "mark": {"type": "rule", "strokeWidth": 1.3},
      "encoding": {
        "x": {"field": "i1", "type": "quantitative", "scale": {"domain": [-0.8, 244.9], "nice": false, "zero": false}, "axis": null},
        "x2": {"field": "i2"},
        "y": {"field": "p", "type": "quantitative", "scale": {"domain": [133.607, 142.357], "nice": false, "zero": false}, "axis": null},
        "color": {"field": "pos", "type": "nominal", "scale": {"domain": ["below", "above"], "range": ["#e00000", "#008a00"]}, "legend": null}
      }
    },
    {
      "data": {"name": "bars"},
      "transform": [{"filter": "datum.i == 241"}],
      "mark": {"type": "bar", "width": 7, "fill": "#c6f3be", "stroke": "#98e08e", "strokeWidth": 1},
      "encoding": {
        "x": {"field": "i", "type": "quantitative", "scale": {"domain": [-0.8, 244.9], "nice": false, "zero": false}, "axis": null},
        "y": {"field": "h", "type": "quantitative", "scale": {"domain": [133.607, 142.357], "nice": false, "zero": false}, "axis": null},
        "y2": {"field": "l"}
      }
    },
    {
      "data": {"name": "bars"},
      "transform": [{"window": [{"op": "lag", "field": "c", "as": "pc"}], "sort": [{"field": "i"}]}],
      "layer": [
        {
          "mark": {"type": "rule", "strokeWidth": 1},
          "encoding": {
            "x": {"field": "i", "type": "quantitative", "scale": {"domain": [-0.8, 244.9], "nice": false, "zero": false}, "axis": null},
            "y": {"field": "l", "type": "quantitative", "scale": {"domain": [133.607, 142.357], "nice": false, "zero": false}, "axis": null},
            "y2": {"field": "h"},
            "color": {"condition": {"test": "datum.pc == null || datum.c < datum.pc", "value": "#d2103a"}, "value": "#000000"}
          }
        },
        {
          "mark": {"type": "bar", "width": 2.4, "strokeWidth": 1},
          "encoding": {
            "x": {"field": "i", "type": "quantitative", "scale": {"domain": [-0.8, 244.9], "nice": false, "zero": false}, "axis": null},
            "y": {"field": "o", "type": "quantitative", "scale": {"domain": [133.607, 142.357], "nice": false, "zero": false}, "axis": null},
            "y2": {"field": "c"},
            "fill": {
              "condition": [
                {"test": "datum.c >= datum.o", "value": "#ffffff"},
                {"test": "datum.pc == null || datum.c < datum.pc", "value": "#d2103a"}
              ],
              "value": "#000000"
            },
            "stroke": {"condition": {"test": "datum.pc == null || datum.c < datum.pc", "value": "#d2103a"}, "value": "#000000"}
          }
        }
      ]
    },
    {
      "data": {"name": "trend"},
      "transform": [{"filter": "datum.line == 'support' || datum.line == 'resistance'"}],
      "mark": {"type": "rule", "color": "#2626f0", "strokeWidth": 1.4},
      "encoding": {
        "x": {"field": "i1", "type": "quantitative", "scale": {"domain": [-0.8, 244.9], "nice": false, "zero": false}, "axis": null},
        "x2": {"field": "i2"},
        "y": {"field": "p1", "type": "quantitative", "scale": {"domain": [133.607, 142.357], "nice": false, "zero": false}, "axis": null},
        "y2": {"field": "p2"}
      }
    },
    {
      "data": {"name": "trend"},
      "transform": [{"filter": "datum.line == 'support2' || datum.line == 'stop'"}],
      "mark": {"type": "rule", "color": "#2626f0", "strokeWidth": 1.4, "strokeDash": [5, 3]},
      "encoding": {
        "x": {"field": "i1", "type": "quantitative", "scale": {"domain": [-0.8, 244.9], "nice": false, "zero": false}, "axis": null},
        "x2": {"field": "i2"},
        "y": {"field": "p1", "type": "quantitative", "scale": {"domain": [133.607, 142.357], "nice": false, "zero": false}, "axis": null},
        "y2": {"field": "p2"}
      }
    },
    {
      "data": {"name": "notes"},
      "transform": [{"filter": "datum.role == 'sym'"}],
      "mark": {"type": "text", "align": "left", "baseline": "alphabetic", "fontSize": 14, "fontWeight": "bold", "color": "#000000"},
      "encoding": {
        "x": {"field": "i", "type": "quantitative", "scale": {"domain": [-0.8, 244.9], "nice": false, "zero": false}, "axis": null},
        "y": {"field": "p", "type": "quantitative", "scale": {"domain": [133.607, 142.357], "nice": false, "zero": false}, "axis": null},
        "text": {"field": "t"}
      }
    },
    {
      "data": {"name": "notes"},
      "transform": [{"filter": "datum.role == 'name'"}],
      "mark": {"type": "text", "align": "left", "baseline": "alphabetic", "fontSize": 10.8, "color": "#000000"},
      "encoding": {
        "x": {"field": "i", "type": "quantitative", "scale": {"domain": [-0.8, 244.9], "nice": false, "zero": false}, "axis": null},
        "y": {"field": "p", "type": "quantitative", "scale": {"domain": [133.607, 142.357], "nice": false, "zero": false}, "axis": null},
        "text": {"field": "t"}
      }
    },
    {
      "data": {"name": "notes"},
      "transform": [{"filter": "datum.role == 'panel'"}],
      "mark": {"type": "text", "align": "left", "baseline": "alphabetic", "fontSize": 11.5, "color": "#111111"},
      "encoding": {
        "x": {"field": "i", "type": "quantitative", "scale": {"domain": [-0.8, 244.9], "nice": false, "zero": false}, "axis": null},
        "y": {"field": "p", "type": "quantitative", "scale": {"domain": [133.607, 142.357], "nice": false, "zero": false}, "axis": null},
        "text": {"field": "t"}
      }
    },
    {
      "data": {"name": "notes"},
      "transform": [{"filter": "datum.role == 'copy'"}],
      "mark": {"type": "text", "align": "left", "baseline": "alphabetic", "fontSize": 10.5, "color": "#555555"},
      "encoding": {
        "x": {"field": "i", "type": "quantitative", "scale": {"domain": [-0.8, 244.9], "nice": false, "zero": false}, "axis": null},
        "y": {"field": "p", "type": "quantitative", "scale": {"domain": [133.607, 142.357], "nice": false, "zero": false}, "axis": null},
        "text": {"field": "t"}
      }
    },
    {
      "data": {"name": "notes"},
      "transform": [{"filter": "datum.role == 'lab'"}],
      "mark": {"type": "text", "align": "left", "baseline": "alphabetic", "fontSize": 11, "fontWeight": "bold", "color": "#000000"},
      "encoding": {
        "x": {"field": "i", "type": "quantitative", "scale": {"domain": [-0.8, 244.9], "nice": false, "zero": false}, "axis": null},
        "y": {"field": "p", "type": "quantitative", "scale": {"domain": [133.607, 142.357], "nice": false, "zero": false}, "axis": null},
        "text": {"field": "t"}
      }
    },
    {
      "data": {"name": "notes"},
      "transform": [{"filter": "datum.role == 'val'"}],
      "mark": {"type": "text", "align": "left", "baseline": "alphabetic", "fontSize": 11, "color": "#000000"},
      "encoding": {
        "x": {"field": "i", "type": "quantitative", "scale": {"domain": [-0.8, 244.9], "nice": false, "zero": false}, "axis": null},
        "y": {"field": "p", "type": "quantitative", "scale": {"domain": [133.607, 142.357], "nice": false, "zero": false}, "axis": null},
        "text": {"field": "t"}
      }
    },
    {
      "data": {"name": "notes"},
      "transform": [{"filter": "datum.role == 'web'"}],
      "mark": {"type": "text", "align": "left", "baseline": "alphabetic", "fontSize": 19, "fontWeight": "bold", "color": "#0c0ce8"},
      "encoding": {
        "x": {"field": "i", "type": "quantitative", "scale": {"domain": [-0.8, 244.9], "nice": false, "zero": false}, "axis": null},
        "y": {"field": "p", "type": "quantitative", "scale": {"domain": [133.607, 142.357], "nice": false, "zero": false}, "axis": null},
        "text": {"field": "t"}
      }
    },
    {
      "data": {"name": "notes"},
      "transform": [{"filter": "datum.role == 'tri'"}],
      "mark": {"type": "point", "shape": "triangle-up", "size": 30, "filled": true, "color": "#2e8b2e", "opacity": 1},
      "encoding": {
        "x": {"field": "i", "type": "quantitative", "scale": {"domain": [-0.8, 244.9], "nice": false, "zero": false}, "axis": null},
        "y": {"field": "p", "type": "quantitative", "scale": {"domain": [133.607, 142.357], "nice": false, "zero": false}, "axis": null}
      }
    }
  ]
}
